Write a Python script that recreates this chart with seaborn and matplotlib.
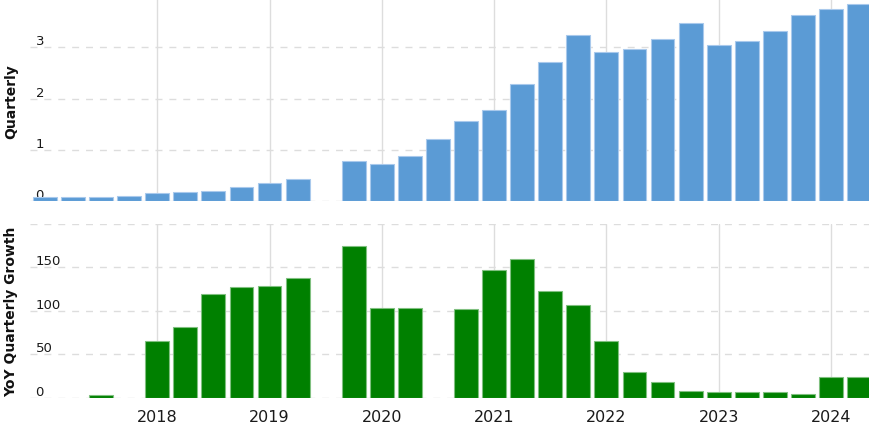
import pandas as pd
import numpy as np
import matplotlib
matplotlib.use("Agg")
import matplotlib.pyplot as plt
import seaborn as sns

# Quarters (fiscal periods) and values
quarters = ["2016Q4", "2017Q1", "2017Q2", "2017Q3", "2017Q4", "2018Q1", "2018Q2", "2018Q3",
            "2018Q4", "2019Q1", "2019Q2", "2019Q3", "2019Q4", "2020Q1", "2020Q2", "2020Q3",
            "2020Q4", "2021Q1", "2021Q2", "2021Q3", "2021Q4", "2022Q1", "2022Q2", "2022Q3",
            "2022Q4", "2023Q1", "2023Q2", "2023Q3", "2023Q4", "2024Q1"]

quarterly = [0.08, 0.08, 0.08, 0.11, 0.16, 0.19, 0.21, 0.28,
             0.35, 0.43, np.nan, 0.785, 0.72, 0.877, 1.22, 1.57,
             1.78, 2.285, 2.71, 3.23, 2.91, 2.96, 3.16, 3.47,
             3.05, 3.12, 3.32, 3.63, 3.75, 3.84]

yoy_growth = [np.nan, np.nan, 3, np.nan, 65.5, 81.7, 119, 127,
              128.8, 138, np.nan, 175, 103.4, 103.4, np.nan, 102.2,
              147.6, 160, 123, 106.4, 65.2, 29.3, 18.5, 7.7,
              6.2, 6.2, 6.2, 4.6, 24, 24]

years = [2018, 2019, 2020, 2021, 2022, 2023, 2024]
top_ticks = [0, 1, 2, 3]
bottom_ticks = [0, 50, 100, 150, 200]

# position of each quarter = end of the quarter as decimal year
pos = [pd.Period(q).year + pd.Period(q).quarter / 4 for q in quarters]
df = pd.DataFrame({"pos": pos, "quarterly": quarterly, "yoy": yoy_growth})

sns.set_style("white")
plt.rcParams["font.family"] = ["DejaVu Sans"]

fig = plt.figure(figsize=(8.69, 4.27), dpi=100)
W, H = 869, 427
left = 30 / W
ax1 = fig.add_axes([left, 1 - 202.3 / H, 1 - left, 202.3 / H])
ax2 = fig.add_axes([left, 1 - 398.7 / H, 1 - left, (398.7 - 225) / H])

sns.barplot(data=df.dropna(subset=["quarterly"]), x="pos", y="quarterly", native_scale=True,
            width=0.85, color="#5b9bd5", saturation=1, edgecolor="#a9c9ec", linewidth=0.8,
            errorbar=None, ax=ax1)
sns.barplot(data=df.dropna(subset=["yoy"]), x="pos", y="yoy", native_scale=True,
            width=0.85, color="#008000", saturation=1, edgecolor="#80c080", linewidth=0.8,
            errorbar=None, ax=ax2)

xmin = 2017.0 - 15 / 112.4
xmax = 2024.25 + 10 / 112.4

for ax, ticks, ylim, label in [(ax1, top_ticks, (0, 3.94), "Quarterly"),
                               (ax2, bottom_ticks, (0, 200), "YoY Quarterly Growth")]:
    ax.set_xlim(xmin, xmax)
    ax.set_ylim(*ylim)
    ax.set_axisbelow(True)
    for s in ax.spines.values():
        s.set_visible(False)
    ax.set_xticks(years)
    ax.set_yticks(ticks)
    ax.xaxis.grid(True, color="#dddddd", linewidth=1, linestyle="-")
    ax.yaxis.grid(True, color="#dddddd", linewidth=1, linestyle=(0, (5, 5)))
    ax.tick_params(axis="both", length=0)
    ax.tick_params(axis="y", pad=-4, labelsize=9.5, labelcolor="#1a1a1a")
    for lbl in ax.get_yticklabels():
        lbl.set_horizontalalignment("left")
        lbl.set_verticalalignment("bottom")
    ax.set_ylabel(label, fontsize=10, fontweight="bold", color="#111111")
    ax.yaxis.set_label_coords(-12 / (W - 30), 0.5)
    ax.set_xlabel("")

ax1.set_xticklabels([])
ax2.set_xticklabels([str(y) for y in years])
ax2.tick_params(axis="x", labelsize=11.5, pad=8, labelcolor="#1a1a1a")
ax2.get_yticklabels()[-1].set_visible(False)

fig.savefig("out.png", dpi=100)
